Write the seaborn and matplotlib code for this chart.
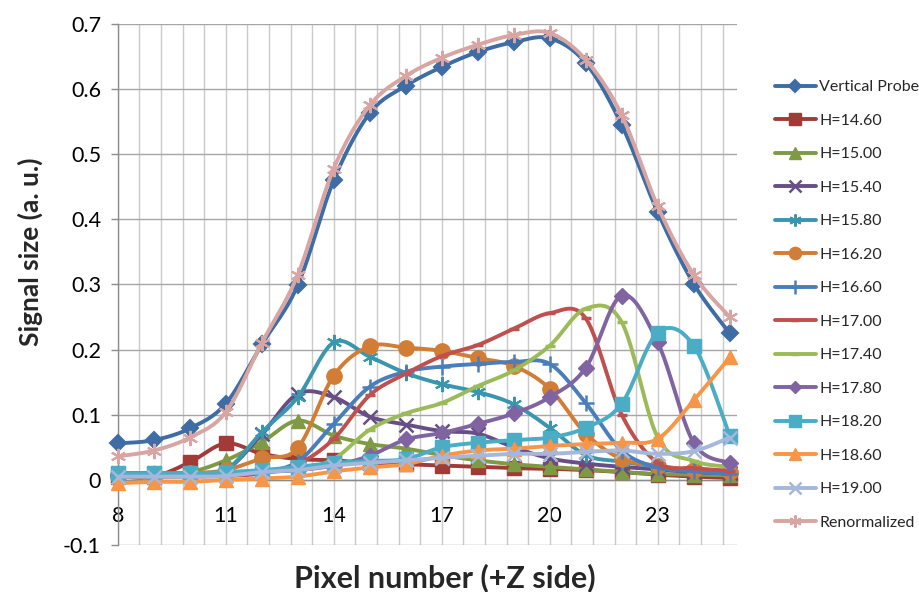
import numpy as np
import matplotlib
matplotlib.use("Agg")
import matplotlib.pyplot as plt
from matplotlib.lines import Line2D
from matplotlib.ticker import MultipleLocator, FuncFormatter
import seaborn as sns

# ---------------- data ----------------
pixels = [8, 9, 10, 11, 12, 13, 14, 15, 16, 17, 18, 19, 20, 21, 22, 23, 24, 25]

vertical_probe = [0.056, 0.061, 0.079, 0.117, 0.208, 0.299, 0.460, 0.563, 0.605, 0.634, 0.657, 0.672, 0.678, 0.640, 0.545, 0.411, 0.301, 0.225]
h_14_60 = [0.005, 0.005, 0.027, 0.056, 0.040, 0.032, 0.030, 0.026, 0.024, 0.022, 0.020, 0.018, 0.017, 0.015, 0.012, 0.008, 0.005, 0.003]
h_15_00 = [0.010, 0.010, 0.012, 0.030, 0.058, 0.091, 0.068, 0.055, 0.048, 0.038, 0.030, 0.024, 0.020, 0.016, 0.012, 0.009, 0.008, 0.007]
h_15_40 = [0.010, 0.010, 0.010, 0.015, 0.070, 0.132, 0.127, 0.097, 0.085, 0.075, 0.071, 0.050, 0.033, 0.025, 0.020, 0.016, 0.012, 0.010]
h_15_80 = [0.010, 0.010, 0.010, 0.015, 0.073, 0.127, 0.211, 0.189, 0.164, 0.147, 0.135, 0.116, 0.080, 0.038, 0.028, 0.020, 0.015, 0.012]
h_16_20 = [0.008, 0.008, 0.010, 0.015, 0.033, 0.049, 0.160, 0.205, 0.203, 0.198, 0.187, 0.175, 0.140, 0.071, 0.032, 0.022, 0.015, 0.012]
h_16_60 = [0.005, 0.005, 0.006, 0.008, 0.012, 0.028, 0.086, 0.143, 0.166, 0.174, 0.178, 0.181, 0.178, 0.118, 0.045, 0.019, 0.013, 0.009]
h_17_00 = [0.005, 0.005, 0.005, 0.006, 0.010, 0.024, 0.063, 0.130, 0.163, 0.190, 0.207, 0.232, 0.256, 0.248, 0.100, 0.026, 0.018, 0.014]
h_17_40 = [0.005, 0.005, 0.006, 0.008, 0.012, 0.016, 0.032, 0.077, 0.102, 0.118, 0.144, 0.168, 0.206, 0.263, 0.242, 0.065, 0.029, 0.020]
h_17_80 = [0.008, 0.008, 0.008, 0.010, 0.012, 0.015, 0.022, 0.037, 0.062, 0.072, 0.086, 0.102, 0.127, 0.172, 0.283, 0.211, 0.057, 0.026]
h_18_20 = [0.010, 0.010, 0.010, 0.012, 0.015, 0.020, 0.026, 0.029, 0.032, 0.050, 0.057, 0.061, 0.065, 0.080, 0.117, 0.226, 0.206, 0.068]
h_18_60 = [-0.005, -0.003, -0.003, 0.000, 0.002, 0.005, 0.013, 0.019, 0.024, 0.037, 0.045, 0.048, 0.052, 0.055, 0.057, 0.063, 0.122, 0.188]
h_19_00 = [0.005, 0.005, 0.005, 0.006, 0.012, 0.015, 0.022, 0.026, 0.030, 0.034, 0.037, 0.040, 0.040, 0.043, 0.045, 0.040, 0.044, 0.065]
renormalized = [0.036, 0.045, 0.065, 0.104, 0.210, 0.315, 0.478, 0.575, 0.620, 0.648, 0.668, 0.683, 0.686, 0.645, 0.560, 0.420, 0.315, 0.250]

series_names = ["Vertical Probe", "H=14.60", "H=15.00", "H=15.40", "H=15.80", "H=16.20",
                "H=16.60", "H=17.00", "H=17.40", "H=17.80", "H=18.20", "H=18.60",
                "H=19.00", "Renormalized"]
series_values = [vertical_probe, h_14_60, h_15_00, h_15_40, h_15_80, h_16_20, h_16_60,
                 h_17_00, h_17_40, h_17_80, h_18_20, h_18_60, h_19_00, renormalized]

x_tick_labels = [8, 11, 14, 17, 20, 23]
y_tick_values = [-0.1, 0, 0.1, 0.2, 0.3, 0.4, 0.5, 0.6, 0.7]

# ---------------- style ----------------
colors = ["#3E6CA4", "#A23B38", "#7E9B44", "#674E87", "#3A96AF", "#D17D36", "#4A7EBB",
          "#C0504D", "#9BBB59", "#8064A2", "#4BACC6", "#F79646", "#A5B8DB", "#D9A5A3"]
star = (6, 2, 0)
markers = ["D", "s", "^", "x", star, "o", "+", "_", "_", "D", "s", "^", "x", star]
msizes = [8, 10, 10, 10, 11, 11, 12, 7, 7, 8, 10, 10, 10, 11]
medge = [1.5, 1, 1, 1.8, 1.5, 1, 1.8, 2.5, 2.5, 1, 1, 1, 1.8, 1.5]

sns.set_theme(style="white")
plt.rcParams["font.family"] = ["Lato", "DejaVu Sans"]


def smooth(xs, ys, n=24):
    """Excel-like Bezier smoothing through the given points (display only)."""
    pts = np.column_stack([xs, ys]).astype(float)
    out = [pts[0]]
    m = len(pts)
    for i in range(m - 1):
        p0 = pts[i - 1] if i > 0 else pts[i]
        p1 = pts[i]
        p2 = pts[i + 1]
        p3 = pts[i + 2] if i + 2 < m else pts[i + 1]
        c1 = p1 + (p2 - p0) / 6.0
        c2 = p2 - (p3 - p1) / 6.0
        t = np.linspace(0, 1, n)[1:, None]
        seg = ((1 - t) ** 3) * p1 + 3 * ((1 - t) ** 2) * t * c1 + 3 * (1 - t) * t ** 2 * c2 + t ** 3 * p2
        out.extend(seg)
    out = np.array(out)
    return out[:, 0], out[:, 1]


fig, ax = plt.subplots(figsize=(9.2, 5.92), dpi=100)
fig.subplots_adjust(left=0.128, right=0.801, top=0.9595, bottom=0.0794)

handles = []
for i, (name, vals) in enumerate(zip(series_names, series_values)):
    sx, sy = smooth(pixels, vals)
    sns.lineplot(x=sx, y=sy, ax=ax, color=colors[i], linewidth=2.8, sort=False,
                 estimator=None, zorder=3 + i, clip_on=False)
    sns.lineplot(x=pixels, y=vals, ax=ax, color=colors[i], linestyle="none",
                 marker=markers[i], markersize=msizes[i], markeredgewidth=medge[i],
                 markeredgecolor=colors[i], markerfacecolor=colors[i],
                 estimator=None, zorder=3 + i + 0.5, clip_on=False)
    handles.append(Line2D([0], [0], color=colors[i], linewidth=2.8, marker=markers[i],
                          markersize=msizes[i] * 0.8, markeredgewidth=medge[i],
                          markeredgecolor=colors[i], markerfacecolor=colors[i]))

ax.set_xlim(8, 25.2)
ax.set_ylim(-0.1, 0.7)

# grid
ax.xaxis.set_minor_locator(MultipleLocator(0.6))
ax.xaxis.set_major_locator(MultipleLocator(3))
ax.set_yticks(y_tick_values)
ax.yaxis.set_major_formatter(FuncFormatter(lambda v, p: f"{round(v, 2):g}"))
ax.grid(False)
for gx in np.arange(8, 25.0, 0.6):
    ax.axvline(gx, color="#cacaca", linewidth=1.0, zorder=1)
for gy in y_tick_values:
    ax.axhline(gy, color="#a6a6a6", linewidth=1.0, xmin=0, xmax=1, zorder=1.5)

ax.set_xticks(x_tick_labels)
ax.set_xticklabels([str(v) for v in x_tick_labels])

for s in ["top", "right"]:
    ax.spines[s].set_visible(False)
ax.spines["bottom"].set_position(("data", 0))
ax.spines["bottom"].set_color("#8c8c8c")
ax.spines["left"].set_color("#8c8c8c")
ax.spines["bottom"].set_linewidth(1.0)
ax.spines["left"].set_linewidth(1.0)

ax.tick_params(axis="x", which="both", length=0, pad=19, labelsize=15.5, colors="#000000")
ax.tick_params(axis="y", which="major", length=5, width=1, color="#8c8c8c",
               direction="out", left=True, pad=7, labelsize=15.5, colors="#000000")
ax.tick_params(axis="y", colors="#8c8c8c", labelcolor="#000000")

fig.text(0.484, 0.024, "Pixel number (+Z side)", ha="center", va="center",
         fontsize=22, fontweight="bold")
fig.text(0.033, 0.574, "Signal size (a. u.)", ha="center", va="center",
         rotation=90, fontsize=19, fontweight="bold")

fig.legend(handles, series_names, loc="center left", bbox_to_anchor=(0.835, 0.485),
           frameon=False, fontsize=11.5, handlelength=2.6, labelspacing=1.21,
           handletextpad=0.2, borderaxespad=0)

fig.savefig("out.png", dpi=100)
